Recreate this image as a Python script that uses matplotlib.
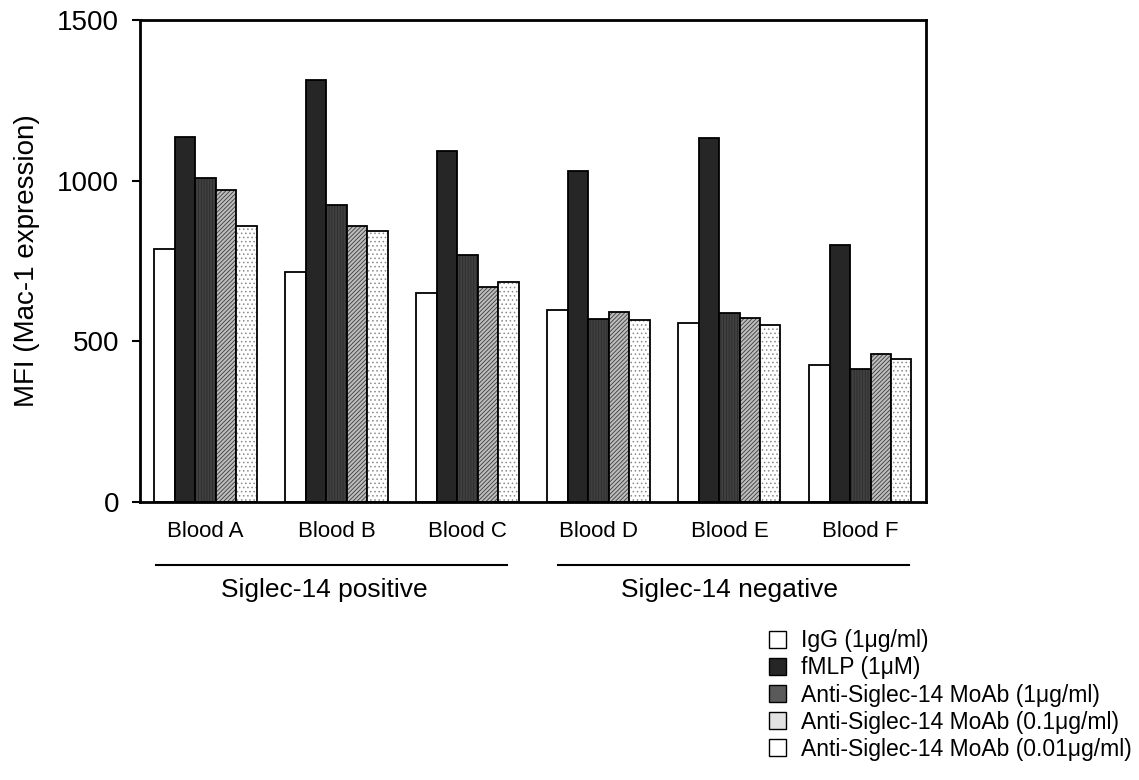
import matplotlib
matplotlib.use("Agg")
import matplotlib.pyplot as plt
import numpy as np
from matplotlib.patches import Patch

plt.rcParams['font.family'] = ['Liberation Sans', 'DejaVu Sans']
plt.rcParams['hatch.linewidth'] = 0.6

# data
groups = ['Blood A', 'Blood B', 'Blood C', 'Blood D', 'Blood E', 'Blood F']
series = ['IgG (1\u03bcg/ml)', 'fMLP (1\u03bcM)', 'Anti-Siglec-14 MoAb (1\u03bcg/ml)',
          'Anti-Siglec-14 MoAb (0.1\u03bcg/ml)', 'Anti-Siglec-14 MoAb (0.01\u03bcg/ml)']
igg = [786, 715, 650, 598, 558, 426]
fmlp = [1137, 1313, 1092, 1031, 1132, 799]
anti_1 = [1009, 924, 769, 569, 587, 413]
anti_01 = [971, 859, 669, 591, 572, 462]
anti_001 = [860, 842, 685, 566, 551, 445]
values = [igg, fmlp, anti_1, anti_01, anti_001]
subgroups = ['Siglec-14 positive', 'Siglec-14 negative']

# bar styles: facecolor, hatch, hatch colour
styles = [('white', None, 'black'),
          ('#262626', None, '#262626'),
          ('#404040', '||||||', '#2c2c2c'),
          ('#bdbdbd', '////////', '#3c3c3c'),
          ('white', '....', '#8a8a8a')]
legend_fc = ['white', '#262626', '#5a5a5a', '#e2e2e2', 'white']

fig = plt.figure(figsize=(11.39, 7.80), dpi=100)
ax = fig.add_axes([0.1229, 0.3564, 0.690, 0.618])

x = np.arange(len(groups))
w = 0.156
for i, vals in enumerate(values):
    fc, h, hc = styles[i]
    pos = x + (i - 2) * w
    ax.bar(pos, vals, w, color=fc, hatch=h, edgecolor=hc, linewidth=0)
    ax.bar(pos, vals, w, fill=False, edgecolor='black', linewidth=1.3)

ax.set_xlim(-0.5, 5.5)
ax.set_ylim(0, 1500)
ax.set_yticks([0, 500, 1000, 1500])
ax.tick_params(axis='y', labelsize=20, length=6, width=1.5, direction='out', pad=9)
ax.set_xticks(x)
ax.set_xticklabels(groups, fontsize=16)
ax.tick_params(axis='x', length=0, pad=14)
for s in ax.spines.values():
    s.set_linewidth(2)
ax.set_ylabel('MFI (Mac-1 expression)', fontsize=20, labelpad=12)

# subgroup lines and labels under the axis
tr = ax.get_xaxis_transform()
ax.plot([-0.378, 2.30], [-0.131, -0.131], color='black', lw=1.5, transform=tr, clip_on=False)
ax.plot([2.69, 5.37], [-0.131, -0.131], color='black', lw=1.5, transform=tr, clip_on=False)
ax.text(0.91, -0.183, subgroups[0], fontsize=19, ha='center', va='center', transform=tr)
ax.text(4.0, -0.183, subgroups[1], fontsize=19, ha='center', va='center', transform=tr)

handles = [Patch(facecolor=fc, edgecolor='black', linewidth=1) for fc in legend_fc]
fig.legend(handles, series, loc='upper left', bbox_to_anchor=(0.667, 0.205),
           frameon=False, fontsize=16.5, handlelength=0.75, handleheight=0.75,
           handletextpad=0.65, labelspacing=0.18, borderaxespad=0)

fig.savefig('out.png', dpi=100)
